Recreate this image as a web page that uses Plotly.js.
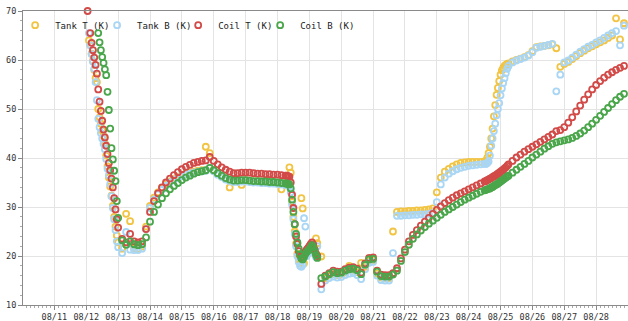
<!DOCTYPE html>
<html>
<head>
<meta charset="utf-8">
<script src="https://cdn.plot.ly/plotly-3.0.1.min.js"></script>
<style>html,body{margin:0;padding:0;background:#fff}#chart{width:628px;height:321px}</style>
</head>
<body>
<div id="chart"></div>
<script>
// hours since 2024-08-12 00:00
const hours = [
 1,2,3,4,5,6,7,8,9,10,11,12,13,14,15,16,17,18,19,20,21,22,23,24,
 27,30,33,36,39,42,45,48,51,54,57,60,63,66,69,72,75,78,81,84,87,90,93,96,99,102,105,108,111,114,117,120,123,126,129,132,135,138,141,144,147,150,
 151,152,153,154,155,156,157,158,159,160,161,162,163,164,165,166,167,168,169,170,171,172,173,174,
 177,180,183,186,189,192,195,198,201,204,207,210,213,216,219,222,225,228,231,234,237,240,243,246,249,252,255,258,261,264,267,270,273,276,279,282,285,288,291,294,297,300,
 301,302,303,304,305,306,307,308,309,310,311,312,313,314,315,316,317,
 318,321,324,327,330,333,336,339,342,345,348,351,354,357,360,363,366,369,372,375,378,381,384,387,390,393,396,399,402,405
];

const tankT = [
 null,64.0,63.0,61.3,59.8,58.0,56.3,55.5,50.0,48.3,47.0,45.6,44.5,43.0,40.5,38.3,36.0,34.2,32.3,30.2,28.0,26.0,24.2,22.8,
 21.5,28.6,27.1,21.6,21.5,21.9,26.0,30.2,31.9,33.0,33.9,34.6,35.2,35.7,36.1,36.5,36.8,37.0,37.2,37.4,37.5,42.3,41.0,37.5,36.8,36.3,35.8,34.0,35.3,35.3,34.5,35.4,35.3,35.2,35.2,35.1,35.1,35.0,35.0,34.9,33.6,34.8,
 34.7,34.6,38.1,37.0,31.0,28.0,25.0,22.5,20.5,19.2,18.5,31.8,29.7,18.5,20.0,20.3,20.8,21.2,21.6,22.0,21.6,20.8,23.6,22.6,
 19.9,15.5,16.0,16.3,16.1,16.2,16.6,18.0,17.0,16.7,18.6,17.8,19.0,19.1,16.4,15.6,15.5,15.5,25.0,29.0,29.1,29.1,29.2,29.2,29.3,29.3,29.4,29.5,29.7,33.0,36.0,37.2,37.8,38.3,38.7,39.0,39.1,39.2,39.2,39.2,39.2,39.3,
 39.4,40.0,41.0,42.3,44.0,46.0,48.5,50.8,52.9,54.3,55.7,57.0,57.9,58.4,58.8,59.0,59.2,
 59.3,59.7,60.0,60.3,60.6,61.0,61.8,62.6,62.8,62.9,63.0,63.2,62.4,58.6,59.2,59.6,60.2,60.8,61.4,61.9,62.4,62.8,63.2,63.6,64.0,64.5,65.0,68.5,64.2,67.5
];

const tankB = [
 null,65.5,63.0,61.2,59.7,58.2,55.5,51.8,48.0,46.3,45.1,44.0,42.9,41.8,39.8,37.8,36.5,34.7,32.2,29.8,27.5,25.3,23.0,21.8,
 20.6,24.9,21.3,21.2,21.2,21.5,25.5,29.8,31.5,32.6,33.5,34.3,35.0,35.5,35.9,36.3,36.6,36.8,37.0,37.2,37.3,37.4,38.0,37.3,36.6,36.1,35.6,35.3,35.1,35.1,35.2,35.2,35.1,35.0,35.0,34.9,34.9,34.8,34.8,34.7,34.6,34.5,
 34.5,34.4,34.2,33.0,30.5,27.5,24.5,22.0,20.0,18.8,18.0,17.8,18.2,27.7,26.0,20.0,20.5,21.0,21.4,21.8,21.3,20.5,19.8,22.0,
 13.2,15.0,15.5,15.8,15.6,15.7,16.1,16.4,16.5,16.1,15.3,17.3,18.6,18.8,16.0,15.1,15.0,15.0,20.6,28.2,28.2,28.3,28.3,28.4,28.4,28.5,28.5,28.6,28.8,31.0,34.6,36.0,36.8,37.3,37.7,38.0,38.2,38.4,38.5,38.6,38.7,38.8,
 38.8,39.0,39.3,40.5,42.5,44.0,45.5,47.0,48.7,50.0,51.2,52.8,54.2,55.3,56.3,57.3,58.2,
 58.8,59.5,59.9,60.2,60.5,60.9,61.6,62.5,62.7,62.9,63.1,63.3,53.6,57.0,59.5,59.9,60.5,61.1,61.7,62.2,62.7,63.1,63.6,64.0,64.5,65.0,65.5,65.9,63.0,67.0
];

const coilT = [
 70.0,null,65.5,63.5,62.0,60.5,59.0,57.2,54.0,51.5,49.6,47.6,45.8,44.2,42.5,40.8,39.0,37.5,35.8,34.0,31.8,29.5,27.5,25.8,
 23.5,22.8,24.5,23.0,22.8,23.0,25.5,29.0,31.2,32.8,34.0,35.0,35.8,36.5,37.1,37.7,38.2,38.6,39.0,39.2,39.4,39.5,40.2,39.4,38.7,38.1,37.6,37.2,36.9,36.9,37.0,37.0,37.0,36.9,36.8,36.8,36.7,36.7,36.6,36.6,36.5,36.4,
 36.4,36.3,36.2,35.0,32.5,29.8,26.5,24.0,22.5,21.0,20.2,19.7,19.6,20.3,20.9,21.3,21.6,22.0,22.4,22.8,22.3,21.3,20.5,20.0,
 14.3,16.0,16.5,17.0,16.8,16.8,17.3,17.6,17.7,17.4,16.6,18.5,19.6,19.7,17.0,16.2,16.1,16.1,16.5,17.5,19.5,21.3,23.0,24.3,25.3,26.2,27.0,27.8,28.6,29.4,30.1,30.8,31.4,31.9,32.4,32.8,33.2,33.6,34.0,34.4,34.8,35.2,
 35.3,35.5,35.6,35.8,35.9,36.1,36.3,36.4,36.6,36.8,37.0,37.2,37.4,37.6,37.9,38.1,38.4,
 38.7,39.4,40.1,40.7,41.3,41.8,42.3,42.8,43.3,43.8,44.3,44.8,45.5,45.7,46.3,47.2,48.3,49.5,50.7,51.9,53.0,54.0,54.9,55.7,56.4,57.0,57.5,58.0,58.4,58.8
];

const coilB = [
 null,null,null,null,null,null,null,null,65.5,63.6,62.0,60.6,59.4,58.1,56.9,53.5,49.8,46.0,42.0,39.7,37.4,35.3,31.2,27.8,
 23.2,22.3,23.0,22.4,22.2,22.4,23.8,27.0,29.0,30.5,31.8,32.8,33.6,34.3,34.9,35.5,36.0,36.4,36.8,37.1,37.3,37.5,38.0,37.5,36.9,36.4,35.9,35.6,35.4,35.4,35.5,35.5,35.4,35.3,35.3,35.2,35.2,35.1,35.1,35.0,34.9,34.8,
 34.8,34.7,34.6,33.8,31.5,29.0,26.5,24.5,22.8,21.5,20.3,19.5,19.3,19.8,20.4,20.8,21.1,21.4,21.8,22.2,21.8,21.0,20.2,19.6,
 15.5,15.8,16.3,16.7,16.5,16.6,17.0,17.3,17.4,17.1,16.3,18.2,19.3,19.4,16.8,15.9,15.8,15.8,16.2,17.0,19.0,20.8,22.3,23.5,24.4,25.2,25.9,26.6,27.2,27.8,28.4,29.0,29.5,30.0,30.5,31.0,31.5,31.9,32.3,32.7,33.1,33.4,
 33.5,33.6,33.7,33.8,34.0,34.1,34.3,34.5,34.6,34.8,35.0,35.2,35.4,35.6,35.8,36.0,36.2,
 36.4,37.0,37.6,38.2,38.8,39.4,40.1,40.7,41.3,41.9,42.4,42.9,43.2,43.4,43.6,43.8,44.1,44.5,45.0,45.6,46.3,47.0,47.8,48.6,49.4,50.2,51.0,51.8,52.5,53.1
];

const seriesNames = ['Tank T (K)', 'Tank B (K)', 'Coil T (K)', 'Coil B (K)'];
const seriesColors = ['#f2c443', '#a9d6f5', '#d24b48', '#4aa64a'];
const yTickVals = [10, 20, 30, 40, 50, 60, 70];
const legendIds = ['legend', 'legend2', 'legend3', 'legend4'];
const legendX = [-0.013, 0.1225, 0.2565, 0.392];

const base = Date.UTC(2024, 7, 12);
const times = hours.map(h => new Date(base + h * 3600000).toISOString().slice(0, 16).replace('T', ' '));

const all = [tankT, tankB, coilT, coilB];
const traces = all.map((vals, i) => ({
  type: 'scatter', mode: 'markers', name: seriesNames[i], legend: legendIds[i],
  x: times, y: vals,
  marker: {symbol: 'circle-open', size: 6, color: seriesColors[i], line: {width: 1.8, color: seriesColors[i]}},
  cliponaxis: false
}));

const layout = {
  width: 628, height: 321,
  margin: {l: 23, r: 0, t: 11, b: 16, pad: 0, autoexpand: false},
  paper_bgcolor: '#ffffff', plot_bgcolor: '#ffffff',
  font: {family: 'DejaVu Sans Mono, monospace', size: 8.5, color: '#333'},
  showlegend: true,
  xaxis: {type: 'date', range: ['2024-08-10 00:20', '2024-08-29 00:00'],
          tickformat: '%m/%d', dtick: 86400000, tick0: '2024-08-11',
          ticks: 'outside', ticklen: 4, tickcolor: '#888', tickfont: {size: 8.5, color: '#333'},
          showline: true, linecolor: '#8a8a8a', linewidth: 1, mirror: true,
          showgrid: true, gridcolor: '#e4e4e4', gridwidth: 1, zeroline: false,
          minor: {dtick: 10800000, ticks: 'outside', ticklen: 2, tickcolor: '#aaa', showgrid: false}},
  yaxis: {range: [10, 70], tickvals: yTickVals, ticks: 'outside', ticklen: 4, tickcolor: '#888',
          tickfont: {size: 8.5, color: '#333'},
          showline: true, linecolor: '#8a8a8a', linewidth: 1,
          showgrid: true, gridcolor: '#e4e4e4', gridwidth: 1, zeroline: false,
          minor: {dtick: 2, ticks: 'outside', ticklen: 2, tickcolor: '#aaa', showgrid: false}}
};
legendIds.forEach((id, i) => {
  layout[id] = {orientation: 'h', x: legendX[i], y: 1.001, xanchor: 'left', yanchor: 'top',
                bgcolor: 'rgba(255,255,255,0)', font: {size: 9, color: '#222'}, itemwidth: 30};
});

Plotly.newPlot('chart', traces, layout, {displayModeBar: false, staticPlot: true});
</script>
</body>
</html>
